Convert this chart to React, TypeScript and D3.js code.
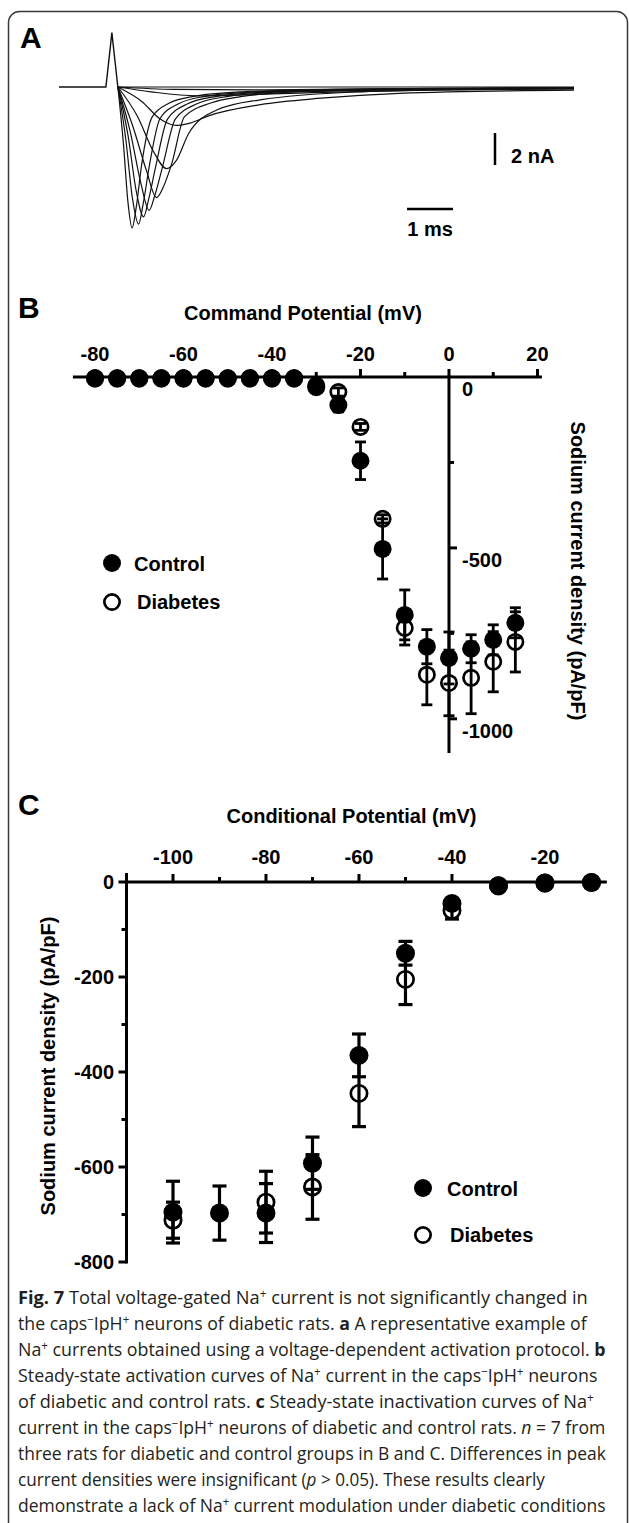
import React, { useLayoutEffect, useRef, useState } from 'react';
import * as d3 from 'd3';

// Panel A: representative Na+ current traces, [time (ms), current (nA)]
const spikeA = [[0, 0], [1.02, 0], [1.12, 2.6], [1.15, 3.4], [1.18, 2.6], [1.28, 0]];
const trace1 = [[1.28, 0], [1.4, -3.5], [1.5, -7.2], [1.59, -8.8], [1.68, -7.5], [1.79, -5.0], [2.03, -1.85], [2.4, -1.0], [2.9, -0.6], [4, -0.3], [6, -0.15], [9, -0.08], [11.2, -0.05]];
const trace2 = [[1.28, 0], [1.45, -3.2], [1.6, -7.0], [1.73, -8.56], [1.83, -7.3], [1.96, -5.0], [2.2, -1.95], [2.6, -1.05], [3.15, -0.6], [4.3, -0.3], [6.5, -0.15], [11.2, -0.05]];
const trace3 = [[1.28, 0], [1.5, -3.0], [1.68, -6.5], [1.84, -8.1], [1.95, -7.0], [2.1, -5.0], [2.36, -2.0], [2.8, -1.05], [3.4, -0.6], [4.6, -0.3], [7, -0.15], [11.2, -0.05]];
const trace4 = [[1.28, 0], [1.55, -2.8], [1.78, -6.0], [1.96, -7.7], [2.08, -6.8], [2.25, -5.0], [2.53, -2.0], [3.0, -1.05], [3.65, -0.6], [4.9, -0.3], [7.5, -0.15], [11.2, -0.05]];
const trace5 = [[1.28, 0], [1.6, -2.4], [1.9, -5.2], [2.12, -6.9], [2.26, -6.3], [2.45, -4.8], [2.73, -1.85], [3.3, -1.0], [3.95, -0.6], [5.2, -0.3], [8, -0.15], [11.2, -0.05]];
const trace6 = [[1.28, 0], [1.7, -1.8], [2.05, -4.0], [2.34, -5.1], [2.55, -4.6], [2.82, -2.9], [3.43, -1.44], [4.38, -0.8], [6.57, -0.3], [9, -0.15], [11.2, -0.1]];
const trace7 = [[1.28, 0], [1.8, -0.9], [2.2, -2.0], [2.55, -2.4], [2.85, -2.25], [3.25, -1.8], [4.38, -1.1], [5.7, -0.7], [7.4, -0.4], [11.2, -0.2]];
const trace8 = [[1.28, 0], [2.0, -0.3], [3.0, -0.55], [4.0, -0.5], [5.5, -0.35], [8, -0.2], [11.2, -0.12]];
const trace9 = [[1.28, 0], [2.5, -0.15], [4.5, -0.18], [7.5, -0.1], [11.2, -0.05]];
const trace10 = [[1.28, 0], [11.2, 0]];
const tracesA = [trace1, trace2, trace3, trace4, trace5, trace6, trace7, trace8, trace9, trace10];

// Panel B: activation, command potential (mV) vs current density (pA/pF)
const commandMv = [-80, -75, -70, -65, -60, -55, -50, -45, -40, -35, -30, -25, -20, -15, -10, -5, 0, 5, 10, 15];
const bControlMean = [-5, -5, -5, -5, -5, -5, -5, -5, -5, -5, -30, -82, -245, -503, -696, -789, -822, -795, -769, -719];
const bControlSem = [8, 8, 8, 8, 8, 8, 8, 8, 8, 8, 14, 20, 55, 88, 73, 50, 76, 41, 44, 44];
const bDiabetesMean = [-3, -3, -3, -3, -3, -3, -3, -3, -3, -3, -25, -44, -146, -415, -734, -871, -895, -880, -833, -775];
const bDiabetesSem = [5, 5, 5, 5, 5, 5, 5, 5, 5, 5, 10, 12, 10, 12, 50, 88, 96, 105, 88, 88];

// Panel C: inactivation, conditional potential (mV) vs current density (pA/pF)
const conditionalMv = [-100, -90, -80, -70, -60, -50, -40, -30, -20, -10];
const cControlMean = [-695, -697, -697, -592, -365, -150, -45, -8, -2, -1];
const cControlSem = [65, 57, 62, 55, 45, 25, 10, 5, 3, 2];
const cDiabetesMean = [-712, null, -674, -642, -445, -205, -60, -8, -2, -1];
const cDiabetesSem = [38, null, 65, 68, 70, 53, 18, 5, 3, 2];

const bXMajor = [-80, -60, -40, -20, 0, 20];
const bXMinor = [-70, -50, -30, -10, 10];
const bYMajor = [0, -500, -1000];
const bYMinor = [-250, -750];
const cXMajor = [-100, -80, -60, -40, -20];
const cXMinor = [-90, -70, -50, -30];
const cYMajor = [0, -200, -400, -600, -800];
const cYMinor = [-100, -300, -500, -700];

type Seg = { t: string; b?: boolean; i?: boolean; sup?: boolean };
const captionLines: Seg[][] = [
  [{ t: 'Fig. 7', b: true }, { t: ' Total voltage-gated Na' }, { t: '+', sup: true }, { t: ' current is not significantly changed in' }],
  [{ t: 'the caps' }, { t: '\u2212', sup: true }, { t: 'IpH' }, { t: '+', sup: true }, { t: ' neurons of diabetic rats. ' }, { t: 'a', b: true }, { t: ' A representative example of' }],
  [{ t: 'Na' }, { t: '+', sup: true }, { t: ' currents obtained using a voltage-dependent activation protocol. ' }, { t: 'b', b: true }],
  [{ t: 'Steady-state activation curves of Na' }, { t: '+', sup: true }, { t: ' current in the caps' }, { t: '\u2212', sup: true }, { t: 'IpH' }, { t: '+', sup: true }, { t: ' neurons' }],
  [{ t: 'of diabetic and control rats. ' }, { t: 'c', b: true }, { t: ' Steady-state inactivation curves of Na' }, { t: '+', sup: true }],
  [{ t: 'current in the caps' }, { t: '\u2212', sup: true }, { t: 'IpH' }, { t: '+', sup: true }, { t: ' neurons of diabetic and control rats. ' }, { t: 'n', i: true }, { t: ' = 7 from' }],
  [{ t: 'three rats for diabetic and control groups in B and C. Differences in peak' }],
  [{ t: 'current densities were insignificant (' }, { t: 'p', i: true }, { t: ' > 0.05). These results clearly' }],
  [{ t: 'demonstrate a lack of Na' }, { t: '+', sup: true }, { t: ' current modulation under diabetic conditions' }],
];
const captionRight = [588, 587, 606, 598, 594, 606, 606, 545, 606];

const FONT = '"Liberation Sans", Arial, Helvetica, sans-serif';
const INK = '#000';

function ErrorBar({ x, y0, y1, cap, sw }: { x: number; y0: number; y1: number; cap: number; sw: number }) {
  return (
    <g stroke={INK} strokeWidth={sw}>
      <line x1={x} x2={x} y1={y0} y2={y1} />
      <line x1={x - cap} x2={x + cap} y1={y0} y2={y0} />
      <line x1={x - cap} x2={x + cap} y1={y1} y2={y1} />
    </g>
  );
}

export default function App() {
  const capRefs = useRef<(SVGTextElement | null)[]>([]);
  const [capScale, setCapScale] = useState<number[]>(captionLines.map(() => 0.8));

  // squeeze each caption line horizontally so it ends where the reference line ends
  useLayoutEffect(() => {
    const s = captionLines.map((_, i) => {
      const el = capRefs.current[i];
      const w = el ? el.getComputedTextLength() : 0;
      return w > 0 ? (captionRight[i] - 18) / w : 0.8;
    });
    setCapScale(s);
  }, []);

  // ---- panel A scales
  const xA = d3.scaleLinear().domain([0, 11.2]).range([59, 574]);
  const yA = d3.scaleLinear().domain([0, -8.8]).range([87, 228]);
  const lineA = d3.line<number[]>().x(d => xA(d[0])).y(d => yA(d[1])).curve(d3.curveMonotoneX);
  const spikeLine = d3.line<number[]>().x(d => xA(d[0])).y(d => yA(d[1]));

  // ---- panel B scales
  const xB = d3.scaleLinear().domain([-85, 21]).range([72.9, 541.9]);
  const yB = d3.scaleLinear().domain([0, -1100]).range([377, 753]);

  // ---- panel C scales
  const xC = d3.scaleLinear().domain([-110, -6.7]).range([126.5, 606.8]);
  const yC = d3.scaleLinear().domain([0, -800]).range([882, 1262]);

  const rB = 9;
  const rC = 9.5;
  const openSw = 2.7;

  const bAxisX0 = xB(0);
  const cAxisY0 = yC(0);

  return (
    <svg width={629} height={1523} style={{ position: 'absolute', left: 0, top: 0, background: '#fff' }} fontFamily={FONT}>
      <rect x={0} y={0} width={629} height={1523} fill="#fff" />
      {/* figure frame */}
      <rect x={8.5} y={11.5} width={619} height={1600} rx={11} fill="none" stroke="#3a3a3a" strokeWidth={1.5} />

      {/* ================= A ================= */}
      <text x={20} y={48} fontSize={30} fontWeight="bold">A</text>
      <g fill="none" stroke="#111" strokeWidth={1.2}>
        {tracesA.map((tr, i) => (
          <path key={i} d={lineA(tr) || ''} />
        ))}
        <path d={spikeLine(spikeA) || ''} strokeWidth={1.4} />
      </g>
      {/* scale bars */}
      <line x1={495} x2={495} y1={133} y2={133 + (yA(-2) - yA(0))} stroke={INK} strokeWidth={2.5} />
      <text x={511} y={163} fontSize={20} fontWeight="bold">2 nA</text>
      <line x1={407} x2={407 + (xA(1) - xA(0))} y1={209} y2={209} stroke={INK} strokeWidth={2.5} />
      <text x={430} y={236} fontSize={20} fontWeight="bold" textAnchor="middle">1 ms</text>

      {/* ================= B ================= */}
      <text x={18} y={318} fontSize={30} fontWeight="bold">B</text>
      <text x={303} y={320} fontSize={20} fontWeight="bold" textAnchor="middle">Command Potential (mV)</text>
      <g stroke={INK} strokeWidth={3}>
        <line x1={xB(-85)} x2={xB(21)} y1={yB(0)} y2={yB(0)} />
        <line x1={bAxisX0} x2={bAxisX0} y1={yB(0) - 1.5} y2={yB(-1100)} />
        {bXMajor.map(v => <line key={'bxM' + v} x1={xB(v)} x2={xB(v)} y1={yB(0)} y2={yB(0) - 8} />)}
        {bXMinor.map(v => <line key={'bxm' + v} x1={xB(v)} x2={xB(v)} y1={yB(0)} y2={yB(0) - 5} />)}
        {bYMajor.filter(v => v !== 0).map(v => <line key={'byM' + v} x1={bAxisX0} x2={bAxisX0 + 8} y1={yB(v)} y2={yB(v)} />)}
        {bYMinor.map(v => <line key={'bym' + v} x1={bAxisX0} x2={bAxisX0 + 5} y1={yB(v)} y2={yB(v)} />)}
      </g>
      {bXMajor.map(v => (
        <text key={'bxl' + v} x={xB(v)} y={361} fontSize={20} fontWeight="bold" textAnchor="middle">{v}</text>
      ))}
      {bYMajor.map(v => (
        <text key={'byl' + v} x={462} y={yB(v) + 19} fontSize={20} fontWeight="bold">{v}</text>
      ))}
      <text transform="translate(571,571) rotate(90)" fontSize={20} fontWeight="bold" textAnchor="middle">Sodium current density (pA/pF)</text>

      {/* B markers */}
      {commandMv.map((v, i) => (
        <circle key={'bd' + i} cx={xB(v)} cy={yB(bDiabetesMean[i])} r={rB - openSw / 2} fill="#fff" stroke={INK} strokeWidth={openSw} />
      ))}
      {commandMv.map((v, i) => (
        <circle key={'bc' + i} cx={xB(v)} cy={yB(bControlMean[i])} r={rB} fill={INK} />
      ))}
      {commandMv.map((v, i) => (
        <ErrorBar key={'bce' + i} x={xB(v)} y0={yB(bControlMean[i] + bControlSem[i])} y1={yB(bControlMean[i] - bControlSem[i])} cap={5.5} sw={2.8} />
      ))}
      {commandMv.map((v, i) => (
        <ErrorBar key={'bde' + i} x={xB(v)} y0={yB(bDiabetesMean[i] + bDiabetesSem[i])} y1={yB(bDiabetesMean[i] - bDiabetesSem[i])} cap={5.5} sw={2.8} />
      ))}

      {/* B legend */}
      <circle cx={112} cy={563} r={9} fill={INK} />
      <text x={134} y={571} fontSize={20} fontWeight="bold">Control</text>
      <circle cx={112} cy={602} r={9 - openSw / 2} fill="#fff" stroke={INK} strokeWidth={openSw} />
      <text x={137} y={609} fontSize={20} fontWeight="bold">Diabetes</text>

      {/* ================= C ================= */}
      <text x={18} y={815} fontSize={30} fontWeight="bold">C</text>
      <text x={351.5} y={823} fontSize={20} fontWeight="bold" textAnchor="middle">Conditional Potential (mV)</text>
      <g stroke={INK} strokeWidth={3}>
        <line x1={xC(-110) - 1.5} x2={xC(-6.7)} y1={cAxisY0} y2={cAxisY0} />
        <line x1={xC(-110)} x2={xC(-110)} y1={cAxisY0 - 9} y2={yC(-800) + 1.5} />
        {cXMajor.map(v => <line key={'cxM' + v} x1={xC(v)} x2={xC(v)} y1={cAxisY0} y2={cAxisY0 - 8} />)}
        {cXMinor.map(v => <line key={'cxm' + v} x1={xC(v)} x2={xC(v)} y1={cAxisY0} y2={cAxisY0 - 5} />)}
        {cYMajor.map(v => <line key={'cyM' + v} x1={xC(-110)} x2={xC(-110) - 8} y1={yC(v)} y2={yC(v)} />)}
        {cYMinor.map(v => <line key={'cym' + v} x1={xC(-110)} x2={xC(-110) - 5} y1={yC(v)} y2={yC(v)} />)}
      </g>
      {cXMajor.map(v => (
        <text key={'cxl' + v} x={xC(v)} y={864} fontSize={20} fontWeight="bold" textAnchor="middle">{v}</text>
      ))}
      {cYMajor.map(v => (
        <text key={'cyl' + v} x={114} y={yC(v) + 7} fontSize={20} fontWeight="bold" textAnchor="end">{v}</text>
      ))}
      <text transform="translate(55,1066) rotate(-90)" fontSize={20} fontWeight="bold" textAnchor="middle">Sodium current density (pA/pF)</text>

      {/* C markers */}
      {conditionalMv.map((v, i) => cDiabetesMean[i] == null ? null : (
        <circle key={'cd' + i} cx={xC(v)} cy={yC(cDiabetesMean[i] as number)} r={rC - openSw / 2} fill="#fff" stroke={INK} strokeWidth={openSw} />
      ))}
      {conditionalMv.map((v, i) => (
        <circle key={'cc' + i} cx={xC(v)} cy={yC(cControlMean[i])} r={rC} fill={INK} />
      ))}
      {conditionalMv.map((v, i) => (
        <ErrorBar key={'cce' + i} x={xC(v)} y0={yC(cControlMean[i] + cControlSem[i])} y1={yC(cControlMean[i] - cControlSem[i])} cap={7} sw={3.2} />
      ))}
      {conditionalMv.map((v, i) => cDiabetesMean[i] == null ? null : (
        <ErrorBar key={'cde' + i} x={xC(v)} y0={yC((cDiabetesMean[i] as number) + (cDiabetesSem[i] as number))} y1={yC((cDiabetesMean[i] as number) - (cDiabetesSem[i] as number))} cap={7} sw={3.2} />
      ))}

      {/* C legend */}
      <circle cx={423} cy={1188} r={9} fill={INK} />
      <text x={447} y={1196} fontSize={20} fontWeight="bold">Control</text>
      <circle cx={423} cy={1235} r={9 - openSw / 2} fill="#fff" stroke={INK} strokeWidth={openSw} />
      <text x={450} y={1242} fontSize={20} fontWeight="bold">Diabetes</text>

      {/* ================= caption ================= */}
      <g fontFamily='"Open Sans", "Noto Sans", sans-serif' fontSize={18.5} fill="#231f20">
        {captionLines.map((segs, li) => {
          let raised = false;
          return (
            <text
              key={li}
              ref={el => { capRefs.current[li] = el; }}
              x={0}
              y={0}
              transform={`translate(18,${1304 + li * 26}) scale(${capScale[li]},1)`}
            >
              {segs.map((s, si) => {
                let dy = 0;
                if (s.sup && !raised) { dy = -6; raised = true; }
                else if (!s.sup && raised) { dy = 6; raised = false; }
                return (
                  <tspan key={si} dy={dy || undefined} fontWeight={s.b ? 'bold' : undefined} fontStyle={s.i ? 'italic' : undefined} fontSize={s.sup ? 12 : undefined}>{s.t}</tspan>
                );
              })}
            </text>
          );
        })}
      </g>
    </svg>
  );
}
